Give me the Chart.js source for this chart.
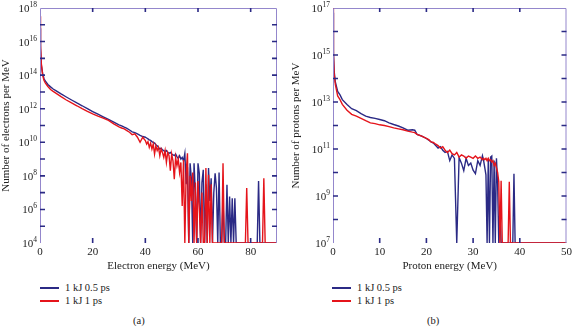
<!DOCTYPE html>
<html>
<head>
<meta charset="utf-8">
<script src="https://cdn.jsdelivr.net/npm/chart.js@4"></script>
<style>
body { margin: 0; background: #fff; width: 575px; height: 327px; position: relative; overflow: hidden; font-family: "Liberation Serif", serif; color: #222; }
canvas { position: absolute; top: 0; }
#chartE { left: 0; }
#chartP { left: 290px; }
.swatch { position: absolute; width: 19px; height: 2px; }
.txt { position: absolute; font-size: 10.5px; line-height: 12px; white-space: nowrap; }
</style>
</head>
<body>
<canvas id="chartE" width="290" height="280"></canvas>
<canvas id="chartP" width="285" height="280"></canvas>

<div class="swatch" style="left:40px;top:287px;background:#2b2a85"></div>
<div class="txt" style="left:65px;top:282px">1 kJ 0.5 ps</div>
<div class="swatch" style="left:40px;top:300px;background:#e5141b"></div>
<div class="txt" style="left:65px;top:295px">1 kJ 1 ps</div>
<div class="txt" style="left:133px;top:315px">(a)</div>

<div class="swatch" style="left:332px;top:287px;background:#2b2a85"></div>
<div class="txt" style="left:357px;top:282px">1 kJ 0.5 ps</div>
<div class="swatch" style="left:332px;top:300px;background:#e5141b"></div>
<div class="txt" style="left:357px;top:295px">1 kJ 1 ps</div>
<div class="txt" style="left:427px;top:315px">(b)</div>

<script>
// (a) electron spectrum, energy in MeV
const energyE = [0, 0.2, 0.5, 1, 1.5, 2, 3, 4, 5, 6, 8, 10, 12, 14, 16, 18, 20, 22, 24, 26, 28, 30,
  31, 32, 33, 34, 35, 36, 37, 38, 39,
  40, 40.5, 41, 41.5, 42, 42.5, 43, 43.5, 44, 44.5, 45, 45.5, 46, 46.5, 47, 47.5, 48, 48.5, 49, 49.5,
  50, 50.5, 51, 51.5, 52, 52.5, 53, 53.5, 54, 54.5, 55, 55.5, 56, 56.5, 57, 57.5, 58, 58.5, 59, 59.5,
  60, 60.5, 61, 61.5, 62, 62.5, 63, 63.5, 64, 64.5, 65, 65.5, 66, 66.5, 67, 67.5, 68, 68.5, 69, 69.5,
  70, 70.5, 71, 71.5, 72, 72.5, 73, 73.5, 74, 74.5, 75,
  78, 78.5, 79, 82.5, 83, 83.5, 84.5, 85, 85.5, 90];
const electrons05ps = [6.3e16, 4.0e15, 4.0e14, 1.26e14, 6.3e13, 4.5e13, 2.8e13, 2.0e13, 1.5e13, 1.2e13, 7.6e12, 5.0e12, 3.3e12, 2.2e12, 1.5e12, 1.0e12, 6.8e11, 4.7e11, 3.3e11, 2.3e11, 1.6e11, 1.1e11,
  9.5e10, 7.9e10, 6.8e10, 5.4e10, 4.2e10, 3.8e10, 3.2e10, 2.6e10, 2.2e10,
  2.0e10, 1.8e10, 1.6e10, 1.4e10, 1.3e10, 1.1e10, 1.0e10, 8.9e9, 7.1e9, 6.3e9, 5.0e9, 4.0e9, 4.5e9, 3.5e9, 3.2e9, 2.8e9, 3.2e9, 2.5e9, 2.2e9, 2.5e9,
  2.0e9, 1.8e9, 1.6e9, 2.0e9, 1.4e9, 1.1e9, 1.6e9, 1.0e9, 1.26e9, 7.9e8, 2.2e9, 3.2e7, 3.2e8, 1e4, 5.6e8, 6.3e7, 1e4, 5.6e8, 1e7, 1e4,
  5.6e8, 1.4e8, 1e4, 4.0e7, 2.3e8, 1e4, 3.2e7, 1e4, 2.9e8, 3.2e6, 7.2e7, 1e4, 1e7, 1.4e8, 1.9e7, 1e4, 1.6e8, 1e4, 1e4, 3.2e6,
  1e4, 1e4, 2.9e7, 1e4, 5.9e6, 1e4, 4.7e6, 1e4, 4.7e6, 1e4, 1e4,
  1e4, 1e4, 1e4, 1e4, 5.0e7, 1e4, 1e4, 1e4, 1e4, 1e4];
const electrons1ps = [3.2e17, 6.3e15, 5.0e14, 1.0e14, 5.0e13, 3.5e13, 2.1e13, 1.4e13, 1.07e13, 8.5e12, 5.2e12, 3.3e12, 2.2e12, 1.5e12, 1.0e12, 6.9e11, 4.9e11, 3.6e11, 2.75e11, 2.0e11, 1.26e11, 8.3e10,
  7.1e10, 6.3e10, 5.0e10, 4.0e10, 2.8e10, 3.2e10, 2.0e10, 1.0e10, 2.0e10,
  1.26e10, 7.9e9, 1.1e10, 5.0e9, 8.9e9, 4.0e9, 7.9e9, 2.0e9, 6.3e9, 3.2e9, 5.0e9, 1.6e9, 4.0e9, 2.5e9, 1.26e9, 3.2e9, 6.3e8, 2.5e9, 1.6e9, 2.0e8,
  2.0e9, 7.9e8, 6.3e7, 1.26e9, 4.0e8, 1.0e9, 1.6e8, 6.3e8, 1.6e6, 8.9e8, 1e4, 1.4e8, 2.2e9, 1e4, 1.0e8, 3.2e6, 1.6e8, 1e4, 4.0e7, 1e4,
  5.0e7, 1.0e6, 1e4, 1.0e7, 1e4, 1e4, 2.9e8, 1e4, 1.15e8, 1e4, 3.2e7, 1e4, 1e4, 1e4, 1e4, 1e4, 1e4, 1e4, 1e4, 5.6e8,
  1e4, 1e4, 1e4, 1e4, 1e4, 1e4, 1e4, 1e4, 1e4, 1e4, 1e4,
  1e4, 1.9e7, 1e4, 1e4, 1e4, 1e4, 1e4, 7.2e7, 1e4, 1e4];

// (b) proton spectrum, energy in MeV
const energyP = [0, 0.1, 0.25, 0.5, 1, 1.5, 2, 3, 4, 5, 6, 7, 8, 9, 10, 11, 12, 13, 14, 15, 16, 17, 17.5, 18, 19,
  20, 20.5, 21, 21.5, 22, 22.5, 23, 23.5, 24, 24.5, 25, 25.5, 26, 26.5, 27, 27.5, 28, 28.5, 29, 29.5, 30, 30.5, 31, 31.5, 32,
  32.25, 32.5, 32.75, 33, 33.25, 33.5, 33.75, 34, 34.25, 34.5, 34.75, 35, 35.25, 35.5, 35.75, 36,
  36.25, 36.5, 36.75, 37, 37.25, 37.5, 37.75, 38, 38.25, 38.5, 38.75, 39, 39.25, 39.5, 39.75, 40, 50];
const protons05ps = [6.3e16, 1.26e15, 2.0e14, 7.1e13, 2.8e13, 2.0e13, 1.26e13, 7.9e12, 5.2e12, 4.3e12, 3.2e12, 2.5e12, 2.2e12, 2.0e12, 1.8e12, 1.6e12, 1.3e12, 1.1e12, 9.5e11, 7.9e11, 6.3e11, 6.6e11, 6.3e11, 4.2e11, 3.5e11,
  2.8e11, 2.4e11, 2.0e11, 1.8e11, 1.4e11, 1.1e11, 1.26e11, 8.9e10, 7.1e10, 7.9e10, 3.2e10, 5.6e10, 4.0e10, 1e7, 4.3e10, 2.5e10, 1.2e10, 4.0e10, 2.0e10, 2.5e10, 1.26e10, 8.9e9, 3.2e10, 2.0e10, 5.2e10,
  3.2e10, 1.6e10, 7.9e9, 1e7, 4.0e10, 1e7, 4.5e10, 5.0e10, 1e7, 3.2e10, 1e7, 4.0e10, 3.2e9, 1e7, 3.2e8, 1e7,
  1e7, 1e7, 1e7, 1e7, 1e7, 1e7, 1e7, 1e7, 1e7, 1e7, 8.9e9, 1e7, 1e7, 1e7, 1e7, 1e7, 1e7];
const protons1ps = [1.0e17, 1.0e15, 1.6e14, 5.6e13, 1.8e13, 1.26e13, 7.9e12, 4.5e12, 3.0e12, 2.5e12, 2.0e12, 1.6e12, 1.3e12, 1.2e12, 1.07e12, 1.0e12, 8.9e11, 7.9e11, 7.2e11, 6.6e11, 5.8e11, 5.2e11, 5.0e11, 4.2e11, 3.5e11,
  2.8e11, 2.5e11, 2.0e11, 1.9e11, 1.6e11, 1.4e11, 1.1e11, 1.26e11, 8.9e10, 7.1e10, 8.9e10, 6.3e10, 5.6e10, 7.1e10, 4.5e10, 5.6e10, 5.0e10, 4.0e10, 5.0e10, 4.5e10, 4.0e10, 5.0e10, 4.0e10, 4.5e10, 3.5e10,
  4.0e10, 3.5e10, 4.0e10, 3.2e10, 4.0e10, 3.2e10, 3.5e10, 2.8e10, 3.2e10, 2.0e10, 2.5e10, 1.6e10, 1.0e10, 4.0e9, 1e7, 4.5e9,
  1e7, 1e7, 1e7, 1e7, 1e7, 1e7, 4.0e9, 1e7, 1e7, 1e7, 1e7, 1e7, 1e7, 1e7, 1e7, 1e7, 1e7];

const xTicksE = [0, 20, 40, 60, 80];
const yTicksE = [1e4, 1e5, 1e6, 1e7, 1e8, 1e9, 1e10, 1e11, 1e12, 1e13, 1e14, 1e15, 1e16, 1e17, 1e18];
const yLabelsE = [1e4, 1e6, 1e8, 1e10, 1e12, 1e14, 1e16, 1e18];
const xTicksP = [0, 10, 20, 30, 40, 50];
const yTicksP = [1e7, 1e8, 1e9, 1e10, 1e11, 1e12, 1e13, 1e14, 1e15, 1e16, 1e17];
const yLabelsP = [1e7, 1e9, 1e11, 1e13, 1e15, 1e17];

const blue = '#2b2a85';
const red = '#e5141b';
const frameColor = '#9487cc';
const tickColor = '#2b2a85';
const textColor = '#222';
const font = { family: 'Liberation Serif', size: 11 };

// frame on three sides, inward tick marks and 10^n labels
const framePlugin = {
  id: 'frame',
  afterDatasetsDraw(chart) {
    let ctx = chart.ctx;
    let a = chart.chartArea;
    let xs = chart.scales.x, ys = chart.scales.y;
    ctx.save();
    ctx.strokeStyle = frameColor;
    ctx.lineWidth = 1;
    ctx.beginPath();
    ctx.moveTo(a.left + 0.5, a.bottom);
    ctx.lineTo(a.left + 0.5, a.top + 0.5);
    ctx.lineTo(a.right - 0.5, a.top + 0.5);
    ctx.lineTo(a.right - 0.5, a.bottom);
    ctx.stroke();
    ctx.strokeStyle = tickColor;
    ctx.lineWidth = 1.6;
    ctx.beginPath();
    chart.options.frameX.forEach(v => {
      if (v == xs.min || v == xs.max) return;
      let px = xs.getPixelForValue(v);
      ctx.moveTo(px, a.top); ctx.lineTo(px, a.top + 4);
      ctx.moveTo(px, a.bottom); ctx.lineTo(px, a.bottom - 5);
    });
    chart.options.frameY.forEach(v => {
      if (v == ys.min || v == ys.max) return;
      let py = ys.getPixelForValue(v);
      ctx.moveTo(a.left, py); ctx.lineTo(a.left + 5, py);
      ctx.moveTo(a.right, py); ctx.lineTo(a.right - 5, py);
    });
    ctx.stroke();

    ctx.fillStyle = textColor;
    ctx.textBaseline = 'alphabetic';
    ctx.textAlign = 'left';
    chart.options.frameLabels.forEach(v => {
      let py = ys.getPixelForValue(v);
      let exp = String(Math.round(Math.log10(v)));
      ctx.font = '7.5px "Liberation Serif"';
      let ew = ctx.measureText(exp).width;
      ctx.font = '11px "Liberation Serif"';
      let bw = ctx.measureText('10').width;
      let xEnd = a.left - 3;
      ctx.fillText('10', xEnd - ew - bw, py + 4);
      ctx.font = '7.5px "Liberation Serif"';
      ctx.fillText(exp, xEnd - ew, py - 1);
    });
    ctx.restore();
  }
};

function makeChart(id, energy, short, long, opts) {
  let ctx = document.getElementById(id).getContext('2d');
  return new Chart(ctx, {
    type: 'line',
    data: {
      datasets: [{
        label: '1 kJ 0.5 ps',
        data: energy.map((e, i) => ({ x: e, y: short[i] })),
        borderColor: blue,
        borderWidth: 1.4,
        order: 1
      }, {
        label: '1 kJ 1 ps',
        data: energy.map((e, i) => ({ x: e, y: long[i] })),
        borderColor: red,
        borderWidth: 1.4,
        order: 0
      }]
    },
    options: {
      responsive: false,
      animation: false,
      frameX: opts.xTicks,
      frameY: opts.yTicks,
      frameLabels: opts.yLabels,
      elements: { point: { radius: 0 }, line: { tension: 0 } },
      layout: { padding: { left: 0, right: opts.padRight, top: 8, bottom: 7 } },
      plugins: { legend: { display: false }, tooltip: { enabled: false } },
      scales: {
        x: {
          type: 'linear',
          min: 0,
          max: opts.xMax,
          afterBuildTicks: s => { s.ticks = opts.xTicks.map(v => ({ value: v })); },
          afterFit: s => { s.height = 30; },
          grid: { display: false, drawTicks: false },
          border: { display: false },
          ticks: { font: font, color: textColor, padding: 3, maxRotation: 0 },
          title: { display: true, text: opts.xTitle, font: font, color: textColor, padding: 0 }
        },
        y: {
          type: 'logarithmic',
          min: opts.yTicks[0],
          max: opts.yTicks[opts.yTicks.length - 1],
          afterBuildTicks: s => { s.ticks = opts.yTicks.map(v => ({ value: v })); },
          afterFit: s => { s.width = opts.yWidth; },
          grid: { display: false, drawTicks: false },
          border: { display: false },
          ticks: { display: false },
          title: { display: true, text: opts.yTitle, font: font, color: textColor, padding: { top: 0, bottom: 2 } }
        }
      }
    },
    plugins: [framePlugin]
  });
}

makeChart('chartE', energyE, electrons05ps, electrons1ps, {
  xMax: 90, xTicks: xTicksE, yTicks: yTicksE, yLabels: yLabelsE,
  xTitle: 'Electron energy (MeV)', yTitle: 'Number of electrons per MeV',
  yWidth: 40, padRight: 13
});
makeChart('chartP', energyP, protons05ps, protons1ps, {
  xMax: 50, xTicks: xTicksP, yTicks: yTicksP, yLabels: yLabelsP,
  xTitle: 'Proton energy (MeV)', yTitle: 'Number of protons per MeV',
  yWidth: 43, padRight: 6
});
</script>
</body>
</html>
